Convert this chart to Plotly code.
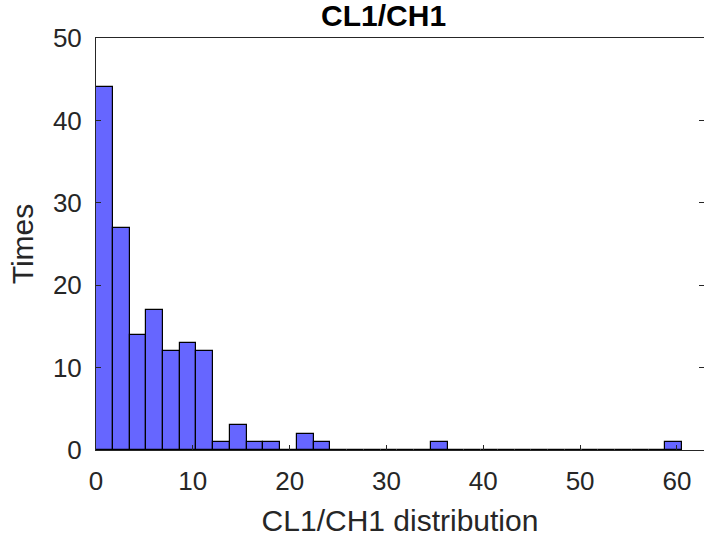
import plotly.graph_objects as go

# Histogram data
bin_width = 1.73
bin_start = 0.0
counts = [44, 27, 14, 17, 12, 13, 12, 1, 3, 1, 1, 0, 2, 1, 0, 0, 0, 0, 0, 0,
          1, 0, 0, 0, 0, 0, 0, 0, 0, 0, 0, 0, 0, 0, 1]
x_ticks = [0, 10, 20, 30, 40, 50, 60]
y_ticks = [0, 10, 20, 30, 40, 50]
title_text = "CL1/CH1"
x_label = "CL1/CH1 distribution"
y_label = "Times"

centers = [bin_start + (i + 0.5) * bin_width for i in range(len(counts))]

fig = go.Figure()
fig.add_trace(go.Bar(
    x=centers,
    y=counts,
    width=[bin_width] * len(counts),
    marker=dict(color="#6666FF", line=dict(color="black", width=1.2)),
    showlegend=False,
))

axis_color = "#262626"
font_family = "Liberation Sans, Arial, sans-serif"

fig.update_layout(
    width=704,
    height=540,
    margin=dict(l=96, r=0, t=38, b=90),
    paper_bgcolor="white",
    plot_bgcolor="white",
    font=dict(family=font_family, size=26, color=axis_color),
    title=dict(
        text="<b>" + title_text + "</b>",
        x=0.473, xref="paper", xanchor="center",
        y=1 - 5 / 540, yref="container", yanchor="top",
        font=dict(family=font_family, size=30, color="black"),
    ),
    bargap=0,
)

fig.update_xaxes(
    range=[0, 62.8],
    automargin=False,
    tickvals=x_ticks,
    ticktext=[str(v) for v in x_ticks],
    ticks="inside",
    ticklen=5,
    tickwidth=1,
    tickcolor=axis_color,
    showline=True,
    linecolor=axis_color,
    linewidth=1,
    mirror=True,
    showgrid=False,
    zeroline=False,
    ticklabelstandoff=8,
    tickfont=dict(size=26, color=axis_color),
    title=dict(text=x_label, font=dict(size=30, color=axis_color), standoff=14),
)

fig.update_yaxes(
    range=[0, 50],
    automargin=False,
    tickvals=y_ticks,
    ticktext=[str(v) for v in y_ticks],
    ticks="inside",
    ticklen=5,
    tickwidth=1,
    tickcolor=axis_color,
    showline=True,
    linecolor=axis_color,
    linewidth=1,
    mirror="ticks",
    showgrid=False,
    zeroline=False,
    ticklabelstandoff=8,
    tickfont=dict(size=26, color=axis_color),
    title=dict(text=y_label, font=dict(size=30, color=axis_color), standoff=10),
)

fig.write_html(
    "out.html",
    config={"displayModeBar": False},
    post_script="document.body.style.margin='0';document.body.style.overflow='hidden';",
)
